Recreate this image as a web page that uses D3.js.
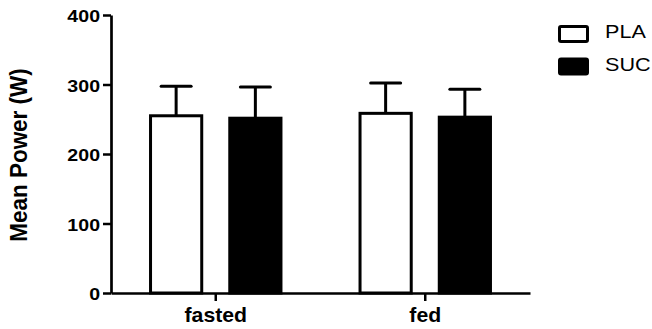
<!DOCTYPE html>
<html><head><meta charset="utf-8">
<script src="https://cdn.jsdelivr.net/npm/d3@7"></script>
<style>body{margin:0;background:#fff}svg{display:block}text{font-family:"Liberation Sans",Arial,sans-serif}</style>
</head><body>
<svg id="c" width="652" height="329"></svg>
<script>
const categories = ["fasted", "fed"];
const seriesNames = ["PLA", "SUC"];
const plaMean = [255, 258.5];
const plaErr = [42.6, 43.5];
const sucMean = [251.5, 253];
const sucErr = [45, 40];
const yTicks = [0, 100, 200, 300, 400];
const yTitle = "Mean Power (W)";

const svg = d3.select("#c");
const x = d3.scaleBand().domain(categories).range([111, 530]).padding(0);
const xs = d3.scaleBand().domain(seriesNames).range([0, x.bandwidth()]).paddingInner(0.316).paddingOuter(0.48);
const y = d3.scaleLinear().domain([0, 400]).range([293, 15]);
const fills = {PLA: "#fff", SUC: "#000"};

const rows = [];
categories.forEach((c, i) => {
  rows.push({c, s: "PLA", v: plaMean[i], e: plaErr[i]});
  rows.push({c, s: "SUC", v: sucMean[i], e: sucErr[i]});
});

const sw = 3;
// error bars
const eg = svg.append("g").attr("stroke", "#000").attr("stroke-width", sw);
rows.forEach(d => {
  const cx = x(d.c) + xs(d.s) + xs.bandwidth() / 2;
  eg.append("line").attr("x1", cx).attr("x2", cx).attr("y1", y(d.v)).attr("y2", y(d.v + d.e));
  eg.append("line").attr("x1", cx - 15).attr("x2", cx + 15).attr("y1", y(d.v + d.e)).attr("y2", y(d.v + d.e)).attr("stroke-linecap", "round");
});
// bars
svg.append("g").selectAll("rect").data(rows).join("rect")
  .attr("x", d => x(d.c) + xs(d.s) + sw / 2)
  .attr("width", xs.bandwidth() - sw)
  .attr("y", d => y(d.v))
  .attr("height", d => y(0) - y(d.v))
  .attr("fill", d => fills[d.s])
  .attr("stroke", "#000").attr("stroke-width", sw);

// y axis
const ya = svg.append("g").attr("transform", "translate(111,0)")
  .call(d3.axisLeft(y).tickValues(yTicks).tickSize(8).tickSizeOuter(0).tickPadding(3));
ya.select(".domain").attr("stroke-width", 2.7);
ya.selectAll(".tick line").attr("stroke-width", 2.5);
const sy = 1.2;
ya.selectAll(".tick text").attr("font-size", 16.3).attr("font-weight", "bold").attr("fill", "#000")
  .attr("font-family", '"Liberation Sans",Arial,sans-serif')
  .attr("x", -11 / sy).attr("dy", "0.4em").attr("transform", `scale(${sy},1)`);

// x axis
const xa = svg.append("g").attr("transform", "translate(0,293)")
  .call(d3.axisBottom(x).tickSize(8).tickSizeOuter(0).tickPadding(7));
xa.select(".domain").attr("stroke-width", 2.7);
xa.selectAll(".tick line").attr("stroke-width", 2.5);
xa.selectAll(".tick text").attr("font-size", 19.3).attr("font-weight", "bold").attr("fill", "#000")
  .attr("font-family", '"Liberation Sans",Arial,sans-serif')
  .attr("transform", "scale(1.1,1)");

// y title
svg.append("text").attr("transform", "translate(27,155) rotate(-90) scale(1,1.05)")
  .attr("text-anchor", "middle").attr("font-size", 22.5).attr("font-weight", "bold").text(yTitle);

// legend
const lg = svg.append("g").attr("transform", "translate(559.5,26.5)");
seriesNames.forEach((s, i) => {
  const g = lg.append("g").attr("transform", `translate(0,${i * 32.5})`);
  g.append("rect").attr("width", 28).attr("height", 15).attr("rx", 1.5)
    .attr("fill", fills[s]).attr("stroke", "#000").attr("stroke-width", sw);
  g.append("text").attr("transform", "translate(45.5,11.8) scale(1.2,1)")
    .attr("font-size", 18).text(s);
});
</script>
</body></html>
